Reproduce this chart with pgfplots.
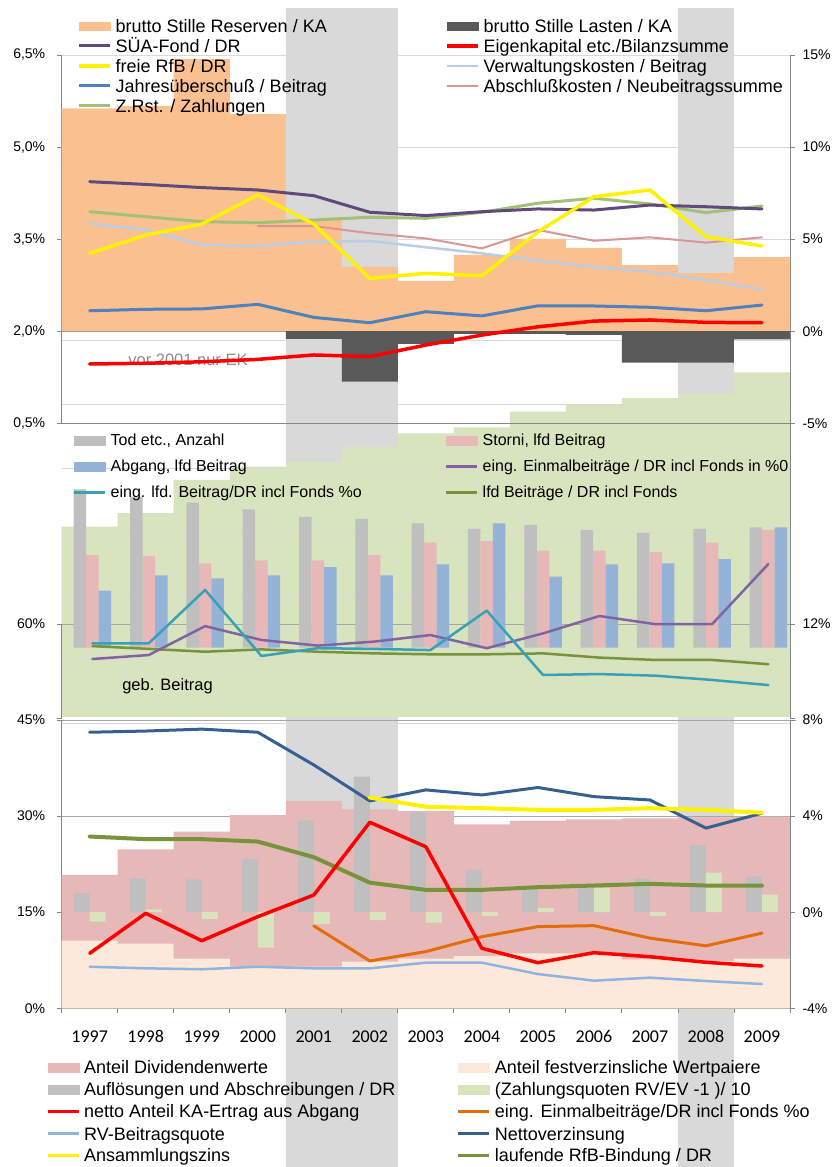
\documentclass[border=0pt]{standalone}
\usepackage{pgfplots}
\pgfplotsset{compat=1.18}
\usepackage{fontspec}
\setmainfont{Liberation Sans}
\newfontfamily\yearfont{Carlito}

\definecolor{shade}{HTML}{D9D9D9}
\definecolor{gebgreen}{HTML}{D7E4BD}
\definecolor{resorange}{HTML}{FAC090}
\definecolor{lastdark}{HTML}{595959}
\definecolor{suapurple}{HTML}{604A7B}
\definecolor{zrstgreen}{HTML}{A2C077}
\definecolor{verwblue}{HTML}{B9CDE5}
\definecolor{abschpink}{HTML}{D99694}
\definecolor{jahrblue}{HTML}{4F81BD}
\definecolor{barsgray}{HTML}{BFBFBF}
\definecolor{barspink}{HTML}{E6B9B8}
\definecolor{barsblue}{HTML}{95B3D7}
\definecolor{lfdteal}{HTML}{38A0B7}
\definecolor{einmpurple}{HTML}{8064A2}
\definecolor{olivegreen}{HTML}{77933C}
\definecolor{peach}{HTML}{FDE9D9}
\definecolor{nettoblue}{HTML}{376092}
\definecolor{einmorange}{HTML}{E46C0A}
\definecolor{rvblue}{HTML}{8EB4E3}
\definecolor{gridlight}{HTML}{D9D9D9}
\definecolor{gridmid}{HTML}{A6A6A6}
\definecolor{axisgray}{HTML}{868686}
\definecolor{notegray}{HTML}{8C8C8C}

% legend swatches
\newcommand\legline[2]{\addlegendimage{legend image code/.code={\draw[#1,line width=#2] (0pt,1.6pt) -- (31pt,1.6pt);}}}
\newcommand\legarea[1]{\addlegendimage{legend image code/.code={\fill[#1] (0pt,-3.2pt) rectangle (31pt,5.6pt);}}}

\pgfplotsset{
  panel/.style={scale only axis, width=728.3pt, xmin=0, xmax=13, enlargelimits=false, anchor=south west},
  bare/.style={panel, hide axis},
  fullbar/.style={ybar, bar width=1, bar shift=0pt, draw=none},
  serie/.style={line join=round, line cap=round},
  yaxisstyle/.style={
    axis line style={axisgray, line width=0.9pt},
    tick style={axisgray, line width=0.9pt},
    tick align=outside, major tick length=5pt,
    yticklabel style={font=\fontsize{14}{16}\selectfont, text=black}},
  leftlabels/.style={yticklabel style={xshift=-8pt}},
  rightlabels/.style={yticklabel style={xshift=4pt}},
  legbox/.style={hide axis, scale only axis, width=832pt, height=1167pt,
    xmin=0, xmax=832, ymin=0, ymax=1167, at={(0pt,0pt)}, anchor=south west,
    legend cell align=left},
}

\begin{document}
\begin{tikzpicture}
\path[use as bounding box] (0pt,0pt) rectangle (832pt,1167pt);

% crisis years shading
\begin{axis}[bare, at={(61.7pt,0pt)}, height=1159pt, ymin=0, ymax=1]
\addplot[fill=shade, draw=none, ybar, bar width=2, bar shift=0pt] coordinates {(5,1)};
\addplot[fill=shade, draw=none, ybar, bar width=1, bar shift=0pt] coordinates {(11.5,1)};
\end{axis}

% geb. Beitrag
\begin{axis}[bare, at={(61.7pt,450pt)}, height=376pt, ymin=45, ymax=105]
\addplot[fullbar, fill=gebgreen] coordinates {
 (0.5,75.37) (1.5,77.55) (2.5,82.82) (3.5,84.94) (4.5,85.69) (5.5,88.08) (6.5,90.27)
 (7.5,91.23) (8.5,93.72) (9.5,94.78) (10.5,95.90) (11.5,96.54) (12.5,100.0)};
\end{axis}

% grid lines and notes
\begin{axis}[bare, at={(61.7pt,0pt)}, height=1167pt, ymin=0, ymax=1167, clip=false]
\draw[gridlight, line width=0.9pt] (axis cs:0,1112) -- (axis cs:13,1112);
\draw[gridlight, line width=0.9pt] (axis cs:0,1020) -- (axis cs:13,1020);
\draw[gridlight, line width=0.9pt] (axis cs:0,928) -- (axis cs:13,928);
\draw[gridlight, line width=0.9pt] (axis cs:0,827) -- (axis cs:13,827);
\draw[gridlight, line width=0.9pt] (axis cs:0,763) -- (axis cs:13,763);
\draw[gridlight, line width=0.9pt] (axis cs:0,699) -- (axis cs:13,699);
\draw[gridlight, line width=0.9pt] (axis cs:0,634.5) -- (axis cs:13,634.5);
\draw[gridlight, line width=0.9pt] (axis cs:0,571) -- (axis cs:13,571);
\draw[gridlight, line width=0.9pt] (axis cs:0,507.5) -- (axis cs:13,507.5);
\draw[gridlight, line width=0.9pt] (axis cs:0,443.7) -- (axis cs:13,443.7);
\draw[gridmid, line width=0.9pt] (axis cs:0,835.8) -- (axis cs:13,835.8);
\draw[gridmid, line width=0.9pt] (axis cs:0,543) -- (axis cs:13,543);
\draw[gridmid, line width=0.9pt] (axis cs:0,447) -- (axis cs:13.1,447);
\draw[gridmid, line width=0.9pt] (axis cs:0,350.3) -- (axis cs:13,350.3);
\draw[axisgray, line width=0.9pt] (axis cs:0,743.7) -- (axis cs:13,743.7);
\draw[axisgray, line width=0.9pt] (axis cs:13,743.7) -- (axis cs:13,543);
\node[text=notegray, font=\fontsize{16.5}{18}\selectfont] at (axis cs:2.254,807) {vor 2001 nur EK};
\node[text=black, font=\fontsize{16.5}{18}\selectfont] at (axis cs:1.889,480.3) {geb. Beitrag};
\end{axis}

% top panel, left scale
\begin{axis}[panel, at={(61.7pt,743.7pt)}, height=368.3pt, ymin=0.5, ymax=6.5,
  axis x line=none, axis y line*=left, yaxisstyle, leftlabels,
  ytick={0.5,2,3.5,5,6.5}, yticklabels={{0,5\%},{2,0\%},{3,5\%},{5,0\%},{6,5\%}}]
\end{axis}

% top panel, right scale with data
\begin{axis}[panel, at={(61.7pt,743.7pt)}, height=368.3pt, ymin=-5, ymax=15,
  axis x line=none, axis y line*=right, yaxisstyle, rightlabels,
  ytick={-5,0,5,10,15}, yticklabels={-5\%,0\%,5\%,10\%,15\%}]
\addplot[fullbar, fill=resorange] coordinates {
 (0.5,12.10) (1.5,12.23) (2.5,14.77) (3.5,11.79) (4.5,6.09) (5.5,3.50) (6.5,2.73)
 (7.5,4.14) (8.5,5.01) (9.5,4.52) (10.5,3.59) (11.5,3.16) (12.5,4.03)};
\addplot[fullbar, fill=lastdark] coordinates {
 (0.5,0) (1.5,0) (2.5,0) (3.5,0) (4.5,-0.42) (5.5,-2.74) (6.5,-0.69)
 (7.5,-0.15) (8.5,-0.15) (9.5,-0.20) (10.5,-1.71) (11.5,-1.71) (12.5,-0.44)};
\addplot[serie, verwblue, line width=2.5pt] coordinates {
 (0.5,5.86) (1.5,5.50) (2.5,4.68) (3.5,4.64) (4.5,4.86) (5.5,4.90) (6.5,4.56)
 (7.5,4.23) (8.5,3.83) (9.5,3.50) (10.5,3.23) (11.5,2.78) (12.5,2.28)};
\addplot[serie, abschpink, line width=2pt] coordinates {
 (3.5,5.71) (4.5,5.71) (5.5,5.32) (6.5,5.04) (7.5,4.50) (8.5,5.50) (9.5,4.91)
 (10.5,5.10) (11.5,4.81) (12.5,5.10)};
\addplot[serie, jahrblue, line width=3pt] coordinates {
 (0.5,1.11) (1.5,1.19) (2.5,1.21) (3.5,1.46) (4.5,0.75) (5.5,0.46) (6.5,1.06)
 (7.5,0.83) (8.5,1.38) (9.5,1.37) (10.5,1.30) (11.5,1.11) (12.5,1.42)};
\addplot[serie, red, line width=3.5pt] coordinates {
 (0.5,-1.78) (1.5,-1.74) (2.5,-1.66) (3.5,-1.53) (4.5,-1.29) (5.5,-1.38) (6.5,-0.75)
 (7.5,-0.21) (8.5,0.24) (9.5,0.55) (10.5,0.61) (11.5,0.48) (12.5,0.46)};
\addplot[serie, zrstgreen, line width=3pt] coordinates {
 (0.5,6.49) (1.5,6.22) (2.5,5.95) (3.5,5.89) (4.5,6.04) (5.5,6.19) (6.5,6.13)
 (7.5,6.46) (8.5,6.95) (9.5,7.22) (10.5,6.91) (11.5,6.44) (12.5,6.80)};
\addplot[serie, suapurple, line width=3pt] coordinates {
 (0.5,8.12) (1.5,7.97) (2.5,7.80) (3.5,7.67) (4.5,7.36) (5.5,6.46) (6.5,6.28)
 (7.5,6.49) (8.5,6.64) (9.5,6.58) (10.5,6.85) (11.5,6.76) (12.5,6.64)};
\addplot[serie, yellow, line width=3.5pt] coordinates {
 (0.5,4.23) (1.5,5.22) (2.5,5.82) (3.5,7.40) (4.5,5.82) (5.5,2.87) (6.5,3.14)
 (7.5,3.01) (8.5,5.39) (9.5,7.30) (10.5,7.67) (11.5,5.13) (12.5,4.63)};
\end{axis}

% middle panel scales
\begin{axis}[panel, at={(61.7pt,449pt)}, height=94pt, ymin=45, ymax=60,
  axis x line=none, axis y line*=left, yaxisstyle, leftlabels, ytick={45,60}, yticklabels={,60\%}]
\end{axis}
\begin{axis}[panel, at={(61.7pt,449pt)}, height=94pt, ymin=8, ymax=12,
  axis x line=none, axis y line*=right, yaxisstyle, rightlabels, ytick={8,12}, yticklabels={,12\%}]
\end{axis}

% middle panel bars
\begin{axis}[bare, width=732.2pt, at={(64.3pt,519.3pt)}, height=188pt, ymin=0, ymax=8,
  ybar=0pt, bar width=12.5pt]
\addplot[fill=barsgray, draw=none] coordinates {
 (0.5,6.74) (1.5,6.43) (2.5,6.17) (3.5,5.89) (4.5,5.57) (5.5,5.48) (6.5,5.29)
 (7.5,5.06) (8.5,5.23) (9.5,5.01) (10.5,4.89) (11.5,5.06) (12.5,5.12)};
\addplot[fill=barspink, draw=none] coordinates {
 (0.5,3.94) (1.5,3.90) (2.5,3.59) (3.5,3.72) (4.5,3.72) (5.5,3.94) (6.5,4.47)
 (7.5,4.54) (8.5,4.13) (9.5,4.13) (10.5,4.07) (11.5,4.47) (12.5,5.01)};
\addplot[fill=barsblue, draw=none] coordinates {
 (0.5,2.43) (1.5,3.08) (2.5,2.95) (3.5,3.08) (4.5,3.43) (5.5,3.08) (6.5,3.55)
 (7.5,5.29) (8.5,3.02) (9.5,3.55) (10.5,3.59) (11.5,3.77) (12.5,5.12)};
\end{axis}

% middle panel lines
\begin{axis}[bare, width=732.2pt, at={(64.3pt,449pt)}, height=188pt, ymin=8, ymax=16]
\addplot[serie, olivegreen, line width=2.5pt] coordinates {
 (0.5,11.06) (1.5,10.94) (2.5,10.82) (3.5,10.92) (4.5,10.82) (5.5,10.75) (6.5,10.71)
 (7.5,10.71) (8.5,10.75) (9.5,10.57) (10.5,10.47) (11.5,10.47) (12.5,10.29)};
\addplot[serie, einmpurple, line width=2.5pt] coordinates {
 (0.5,10.51) (1.5,10.68) (2.5,11.91) (3.5,11.32) (4.5,11.08) (5.5,11.25) (6.5,11.53)
 (7.5,10.97) (8.5,11.60) (9.5,12.34) (10.5,11.99) (11.5,11.99) (12.5,14.55)};
\addplot[serie, lfdteal, line width=2.5pt] coordinates {
 (0.5,11.18) (1.5,11.18) (2.5,13.45) (3.5,10.64) (4.5,10.97) (5.5,10.94) (6.5,10.89)
 (7.5,12.57) (8.5,9.83) (9.5,9.87) (10.5,9.80) (11.5,9.62) (12.5,9.40)};
\end{axis}

% bottom panel, left scale: portfolio shares
\begin{axis}[panel, at={(61.7pt,158.7pt)}, height=288.3pt, ymin=0, ymax=45,
  axis x line*=bottom, axis y line*=left, yaxisstyle, leftlabels,
  x axis line style={axisgray, line width=0.9pt},
  xtick={0,...,13}, xticklabels={},
  extra x ticks={0.5,1.5,...,12.5},
  extra x tick labels={1997,1998,1999,2000,2001,2002,2003,2004,2005,2006,2007,2008,2009},
  extra x tick style={major tick length=0pt,
    xticklabel style={font=\yearfont\fontsize{18}{20}\selectfont, text=black, anchor=base, yshift=-34pt}},
  ytick={0,15,30,45}, yticklabels={0\%,15\%,30\%,45\%}]
\addplot[fullbar, fill=barspink] coordinates {
 (0.5,20.81) (1.5,24.82) (2.5,27.56) (3.5,30.17) (4.5,32.36) (5.5,31.06) (6.5,30.79)
 (7.5,28.72) (8.5,29.28) (9.5,29.50) (10.5,29.66) (11.5,29.81) (12.5,29.90)};
\addplot[fullbar, fill=peach] coordinates {
 (0.5,10.55) (1.5,10.08) (2.5,7.74) (3.5,6.49) (4.5,6.49) (5.5,7.27) (6.5,7.74)
 (7.5,8.16) (8.5,8.58) (9.5,8.58) (10.5,7.65) (11.5,7.38) (12.5,7.74)};
\end{axis}

% bottom panel, right scale
\begin{axis}[panel, at={(61.7pt,158.7pt)}, height=288.3pt, ymin=-4, ymax=8,
  axis x line=none, axis y line*=right, yaxisstyle, rightlabels,
  ytick={-4,0,4,8}, yticklabels={-4\%,0\%,4\%,8\%}]
\addplot[ybar, bar width=16pt, bar shift=-8pt, fill=barsgray, draw=none] coordinates {
 (0.5,0.79) (1.5,1.42) (2.5,1.37) (3.5,2.22) (4.5,3.81) (5.5,5.64) (6.5,4.16)
 (7.5,1.76) (8.5,0.96) (9.5,1.00) (10.5,1.41) (11.5,2.80) (12.5,1.48)};
\addplot[ybar, bar width=16pt, bar shift=8pt, fill=gebgreen, draw=none] coordinates {
 (0.5,-0.39) (1.5,0.12) (2.5,-0.28) (3.5,-1.47) (4.5,-0.50) (5.5,-0.33) (6.5,-0.43)
 (7.5,-0.15) (8.5,0.17) (9.5,1.00) (10.5,-0.15) (11.5,1.65) (12.5,0.73)};
\addplot[serie, einmorange, line width=3pt] coordinates {
 (4.5,-0.57) (5.5,-2.03) (6.5,-1.64) (7.5,-1.02) (8.5,-0.60) (9.5,-0.56) (10.5,-1.08)
 (11.5,-1.40) (12.5,-0.87)};
\addplot[serie, olivegreen, line width=4pt] coordinates {
 (0.5,3.15) (1.5,3.04) (2.5,3.04) (3.5,2.94) (4.5,2.29) (5.5,1.23) (6.5,0.93)
 (7.5,0.93) (8.5,1.04) (9.5,1.11) (10.5,1.18) (11.5,1.11) (12.5,1.11)};
\addplot[serie, nettoblue, line width=3pt] coordinates {
 (0.5,7.49) (1.5,7.54) (2.5,7.62) (3.5,7.49) (4.5,6.13) (5.5,4.63) (6.5,5.09)
 (7.5,4.88) (8.5,5.19) (9.5,4.81) (10.5,4.67) (11.5,3.50) (12.5,4.12)};
\addplot[serie, yellow, line width=4pt] coordinates {
 (5.5,4.77) (6.5,4.39) (7.5,4.33) (8.5,4.26) (9.5,4.26) (10.5,4.33) (11.5,4.26) (12.5,4.14)};
\end{axis}

% bottom panel, left scale: lines
\begin{axis}[bare, at={(61.7pt,158.7pt)}, height=288.3pt, ymin=0, ymax=45]
\addplot[serie, rvblue, line width=2.5pt] coordinates {
 (0.5,6.49) (1.5,6.24) (2.5,6.09) (3.5,6.49) (4.5,6.24) (5.5,6.24) (6.5,7.12)
 (7.5,7.12) (8.5,5.35) (9.5,4.31) (10.5,4.78) (11.5,4.26) (12.5,3.79)};
\addplot[serie, red, line width=3.5pt] coordinates {
 (0.5,8.58) (1.5,14.83) (2.5,10.55) (3.5,14.30) (4.5,17.68) (5.5,29.03) (6.5,25.22)
 (7.5,9.36) (8.5,7.12) (9.5,8.68) (10.5,8.05) (11.5,7.18) (12.5,6.60)};
\end{axis}

% legends
\begin{axis}[legbox, legend style={at={(axis cs:77,1148.8)}, anchor=north west, draw=none, fill=none,
  inner sep=0pt, row sep=2pt, font=\fontsize{18}{20}\selectfont,
  nodes={inner xsep=4pt, inner ysep=0pt, text height=14pt, text depth=4pt}}]
\legarea{resorange}\addlegendentry{brutto Stille Reserven / KA}
\legline{suapurple}{3pt}\addlegendentry{SÜA-Fond / DR}
\legline{yellow}{3.5pt}\addlegendentry{freie RfB / DR}
\legline{jahrblue}{3pt}\addlegendentry{Jahresüberschuß / Beitrag}
\legline{zrstgreen}{3pt}\addlegendentry{Z.Rst. / Zahlungen}
\end{axis}
\begin{axis}[legbox, legend style={at={(axis cs:445,1148.8)}, anchor=north west, draw=none, fill=none,
  inner sep=0pt, row sep=2pt, font=\fontsize{18}{20}\selectfont,
  nodes={inner xsep=4pt, inner ysep=0pt, text height=14pt, text depth=4pt}}]
\legarea{lastdark}\addlegendentry{brutto Stille Lasten / KA}
\legline{red}{3.5pt}\addlegendentry{Eigenkapital etc./Bilanzsumme}
\legline{verwblue}{2.5pt}\addlegendentry{Verwaltungskosten / Beitrag}
\legline{abschpink}{2pt}\addlegendentry{Abschlußkosten / Neubeitragssumme}
\end{axis}
\begin{axis}[legbox, legend style={at={(axis cs:73,733.3)}, anchor=north west, draw=none, fill=none,
  inner sep=0pt, row sep=10pt, font=\fontsize{16}{18}\selectfont,
  nodes={inner xsep=4pt, inner ysep=0pt, text height=12pt, text depth=4pt}}]
\legarea{barsgray}\addlegendentry{Tod etc., Anzahl}
\legarea{barsblue}\addlegendentry{Abgang, lfd Beitrag}
\legline{lfdteal}{2.5pt}\addlegendentry{eing. lfd. Beitrag/DR incl Fonds \%o}
\end{axis}
\begin{axis}[legbox, legend style={at={(axis cs:445,733.3)}, anchor=north west, draw=none, fill=none,
  inner sep=0pt, row sep=10pt, font=\fontsize{16}{18}\selectfont,
  nodes={inner xsep=4pt, inner ysep=0pt, text height=12pt, text depth=4pt}}]
\legarea{barspink}\addlegendentry{Storni, lfd Beitrag}
\legline{einmpurple}{2.5pt}\addlegendentry{eing. Einmalbeiträge / DR incl Fonds in \%0}
\legline{olivegreen}{2.5pt}\addlegendentry{lfd Beiträge / DR incl Fonds}
\end{axis}
\begin{axis}[legbox, legend style={at={(axis cs:46,107.2)}, anchor=north west, draw=none, fill=none,
  inner sep=0pt, row sep=4pt, font=\fontsize{18}{20}\selectfont,
  nodes={inner xsep=4pt, inner ysep=0pt, text height=14pt, text depth=4pt}}]
\legarea{barspink}\addlegendentry{Anteil Dividendenwerte}
\legarea{barsgray}\addlegendentry{Auflösungen und Abschreibungen / DR}
\legline{red}{3pt}\addlegendentry{netto Anteil KA-Ertrag aus Abgang}
\legline{rvblue}{3pt}\addlegendentry{RV-Beitragsquote}
\legline{yellow}{3pt}\addlegendentry{Ansammlungszins}
\end{axis}
\begin{axis}[legbox, legend style={at={(axis cs:456.7,107.2)}, anchor=north west, draw=none, fill=none,
  inner sep=0pt, row sep=4pt, font=\fontsize{18}{20}\selectfont,
  nodes={inner xsep=4pt, inner ysep=0pt, text height=14pt, text depth=4pt}}]
\legarea{peach}\addlegendentry{Anteil festverzinsliche Wertpaiere}
\legarea{gebgreen}\addlegendentry{(Zahlungsquoten RV/EV -1 )/ 10}
\legline{einmorange}{3pt}\addlegendentry{eing. Einmalbeiträge/DR incl Fonds \%o}
\legline{nettoblue}{3pt}\addlegendentry{Nettoverzinsung}
\legline{olivegreen}{3pt}\addlegendentry{laufende RfB-Bindung / DR}
\end{axis}
\end{tikzpicture}
\end{document}
